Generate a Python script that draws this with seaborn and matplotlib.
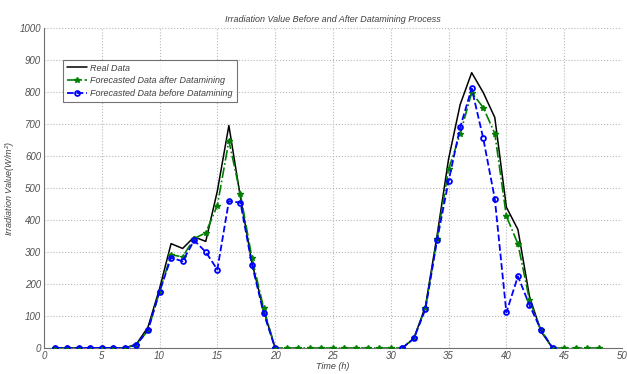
import numpy as np
import pandas as pd
import matplotlib
matplotlib.use("Agg")
import matplotlib.pyplot as plt
from matplotlib.lines import Line2D
import seaborn as sns

# ---- data ----
real_t1 = [1, 2, 3, 4, 5, 6, 7, 8, 9, 10, 11, 12, 13, 14, 15, 16, 17, 18, 19, 20]
real_v1 = [0, 0, 0, 0, 0, 0, 0, 12, 65, 185, 326, 311, 347, 333, 490, 695, 470, 266, 119, 0]
real_t2 = [31, 32, 33, 34, 35, 36, 37, 38, 39, 40, 41, 42, 43, 44]
real_v2 = [0, 30, 130, 350, 590, 760, 860, 798, 720, 440, 370, 161, 51, 0]

after_t = list(range(1, 49))
after_v = [0, 0, 0, 0, 0, 0, 0, 10, 55, 175, 291, 285, 342, 360, 445, 647, 480, 280, 126, 0,
           0, 0, 0, 0, 0, 0, 0, 0, 0, 0,
           0, 30, 125, 340, 558, 668, 798, 751, 670, 412, 325, 150, 55, 0,
           0, 0, 0, 0]

before_t1 = [1, 2, 3, 4, 5, 6, 7, 8, 9, 10, 11, 12, 13, 14, 15, 16, 17, 18, 19, 20]
before_v1 = [0, 0, 0, 0, 0, 0, 0, 10, 56, 176, 282, 271, 336, 300, 245, 459, 454, 260, 110, 0]
before_t2 = [31, 32, 33, 34, 35, 36, 37, 38, 39, 40, 41, 42, 43, 44]
before_v2 = [0, 30, 121, 336, 521, 689, 811, 655, 466, 111, 224, 134, 56, 0]

x_ticks = list(range(0, 51, 5))
y_ticks = list(range(0, 1001, 100))

title = "Irradiation Value Before and After Datamining Process"
xlabel = "Time (h)"
ylabel = "Irradiation Value(W/m$^2$)"
labels = ["Real Data", "Forecasted Data after Datamining", "Forecasted Data before Datamining"]

# ---- frames ----
real_df = pd.DataFrame({"t": real_t1 + real_t2, "v": real_v1 + real_v2,
                        "seg": [0] * len(real_t1) + [1] * len(real_t2)})
after_df = pd.DataFrame({"t": after_t, "v": after_v, "seg": 0})
before_df = pd.DataFrame({"t": before_t1 + before_t2, "v": before_v1 + before_v2,
                          "seg": [0] * len(before_t1) + [1] * len(before_t2)})

sns.set_style("white")
plt.rcParams["font.family"] = ["Liberation Sans", "DejaVu Sans"]
plt.rcParams["mathtext.fontset"] = "custom"
plt.rcParams["mathtext.it"] = "Liberation Sans:italic"
plt.rcParams["mathtext.rm"] = "Liberation Sans:italic"

fig = plt.figure(figsize=(6.27, 3.74), dpi=100)
ax = fig.add_axes([0.070, 0.0695, 0.922, 0.856])

green = (0.0, 0.5, 0.0)
blue = (0.0, 0.0, 1.0)

sns.lineplot(data=real_df, x="t", y="v", units="seg", estimator=None, sort=False,
             color="black", linewidth=1.1, ax=ax, zorder=3)
sns.lineplot(data=after_df, x="t", y="v", units="seg", estimator=None, sort=False,
             color=green, linewidth=1.2, linestyle="-.", marker="*", markersize=4,
             markeredgewidth=1.0, markeredgecolor=green, ax=ax, zorder=4)
sns.lineplot(data=before_df, x="t", y="v", units="seg", estimator=None, sort=False,
             color=blue, linewidth=1.3, linestyle="--", marker="o", markersize=3.5,
             markerfacecolor="none", markeredgecolor=blue, markeredgewidth=1.3,
             ax=ax, zorder=5)

ax.set_xlim(0, 50)
ax.set_ylim(0, 1000)
ax.set_xticks(x_ticks)
ax.set_yticks(y_ticks)
ax.grid(True, linestyle=":", color="#b8b8b8", linewidth=0.8)
for s in ["top", "right"]:
    ax.spines[s].set_visible(False)
for s in ["left", "bottom"]:
    ax.spines[s].set_color("#707070")
    ax.spines[s].set_linewidth(0.8)
ax.tick_params(axis="both", direction="in", length=3, color="#707070",
               labelsize=7, labelcolor="#505050", pad=2)
for lab in ax.get_xticklabels() + ax.get_yticklabels():
    lab.set_fontstyle("italic")

ax.set_title(title, fontsize=6.5, style="italic", color="#404040", pad=4)
ax.set_xlabel(xlabel, fontsize=6.5, style="italic", color="#404040", labelpad=1)
ax.set_ylabel(ylabel, fontsize=6.5, style="italic", color="#404040")
ax.yaxis.set_label_coords(-0.047, 0.5)

h = [Line2D([], [], color="black", linewidth=1.1),
     Line2D([], [], color=green, linewidth=1.2, linestyle="-.", marker="*", markersize=4),
     Line2D([], [], color=blue, linewidth=1.3, linestyle="--", marker="o", markersize=3.5,
            markerfacecolor="none", markeredgewidth=1.3)]
leg = ax.legend(h, labels, loc="upper left", bbox_to_anchor=(0.025, 0.915),
                prop={"size": 6.5, "style": "italic"}, frameon=True, fancybox=False,
                edgecolor="#505050", handlelength=2.2, borderpad=0.45, labelspacing=0.4,
                handletextpad=0.4)
leg.get_frame().set_linewidth(0.8)
for t in leg.get_texts():
    t.set_color("#404040")

fig.savefig("out.png", dpi=100)
